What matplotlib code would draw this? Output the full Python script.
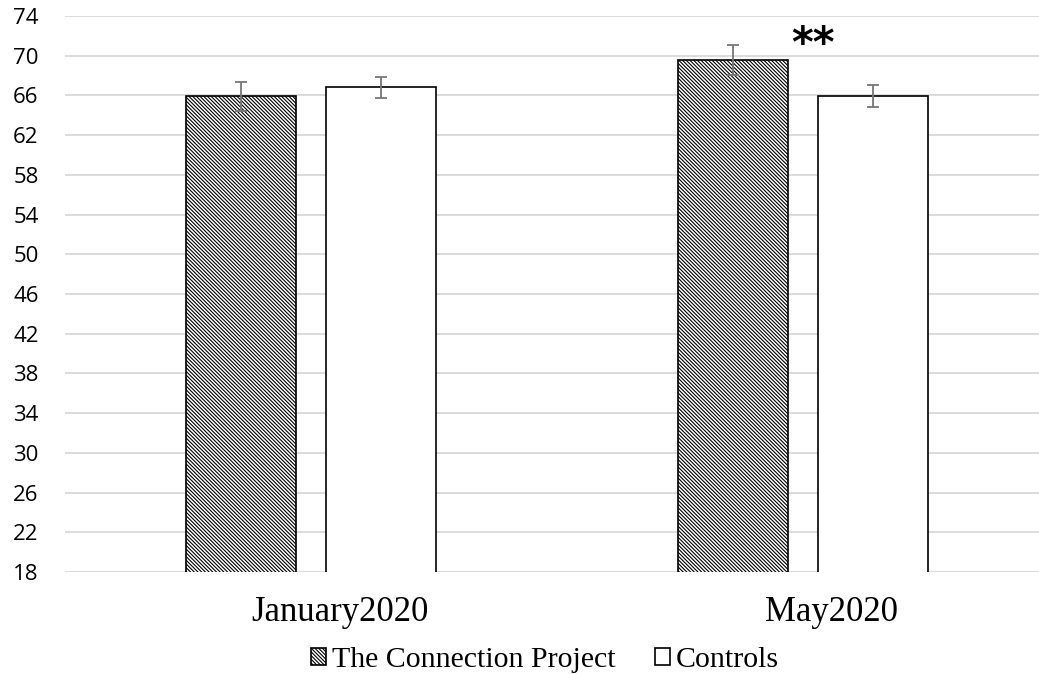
import numpy as np
import matplotlib.pyplot as plt
from matplotlib.transforms import ScaledTranslation

periods = ["January2020", "May2020"]
groups = ["The Connection Project", "Controls"]
tcp_means = [65.9, 69.6]
tcp_err = [1.45, 1.5]
ctrl_means = [66.8, 65.9]
ctrl_err = [1.1, 1.1]
yticks = list(range(18, 75, 4))

plt.rcParams['hatch.linewidth'] = 0.8

fig = plt.figure(figsize=(10.39, 6.74), dpi=100)
ax = fig.add_axes([65 / 1039, 102 / 674, 984 / 1039, 556 / 674])

x = np.arange(len(periods))
width = 0.2236
offset = 0.1423

err_kw = dict(ecolor="#767676", elinewidth=1.3, capsize=4, capthick=1.3)
ax.bar(x - offset, tcp_means, width, yerr=tcp_err, color="white", edgecolor="black",
       linewidth=1.2, hatch="\\" * 9, label=groups[0], error_kw=err_kw, zorder=3)
ax.bar(x + offset, ctrl_means, width, yerr=ctrl_err, color="white", edgecolor="black",
       linewidth=1.2, label=groups[1], error_kw=err_kw, zorder=3)

# significance marker over the May comparison
ax.text(x[1] + 0.02, 71.1, "**", ha="center", va="center", fontsize=30,
        fontweight="bold", family="DejaVu Sans")

ax.set_xlim(-0.5, 1.5)
ax.set_ylim(18, 74)
ax.set_yticks(yticks)
ax.yaxis.grid(True, color="#d9d9d9", linewidth=1.3, zorder=0)
ax.set_axisbelow(True)
for s in ax.spines.values():
    s.set_visible(False)
ax.tick_params(length=0)
ax.tick_params(axis="y", labelsize=16, pad=19)
ax.tick_params(axis="x", pad=17)
for lab in ax.get_yticklabels():
    lab.set_family("Open Sans")
ax.set_xticks(x)
ax.set_xticklabels(periods, family="Liberation Serif", fontsize=25)
# category labels sit a little right of the bar pairs
shift = ScaledTranslation(0.29, 0, fig.dpi_scale_trans)
for lab in ax.get_xticklabels():
    lab.set_transform(lab.get_transform() + shift)

fig.legend(loc="center", bbox_to_anchor=(0.5245, 1 - 660 / 674), ncol=2,
           frameon=False, prop={"family": "Liberation Serif", "size": 21.5},
           handlelength=0.5, handleheight=0.5, handletextpad=0.2, columnspacing=1.3)

fig.savefig("out.png", dpi=100)
